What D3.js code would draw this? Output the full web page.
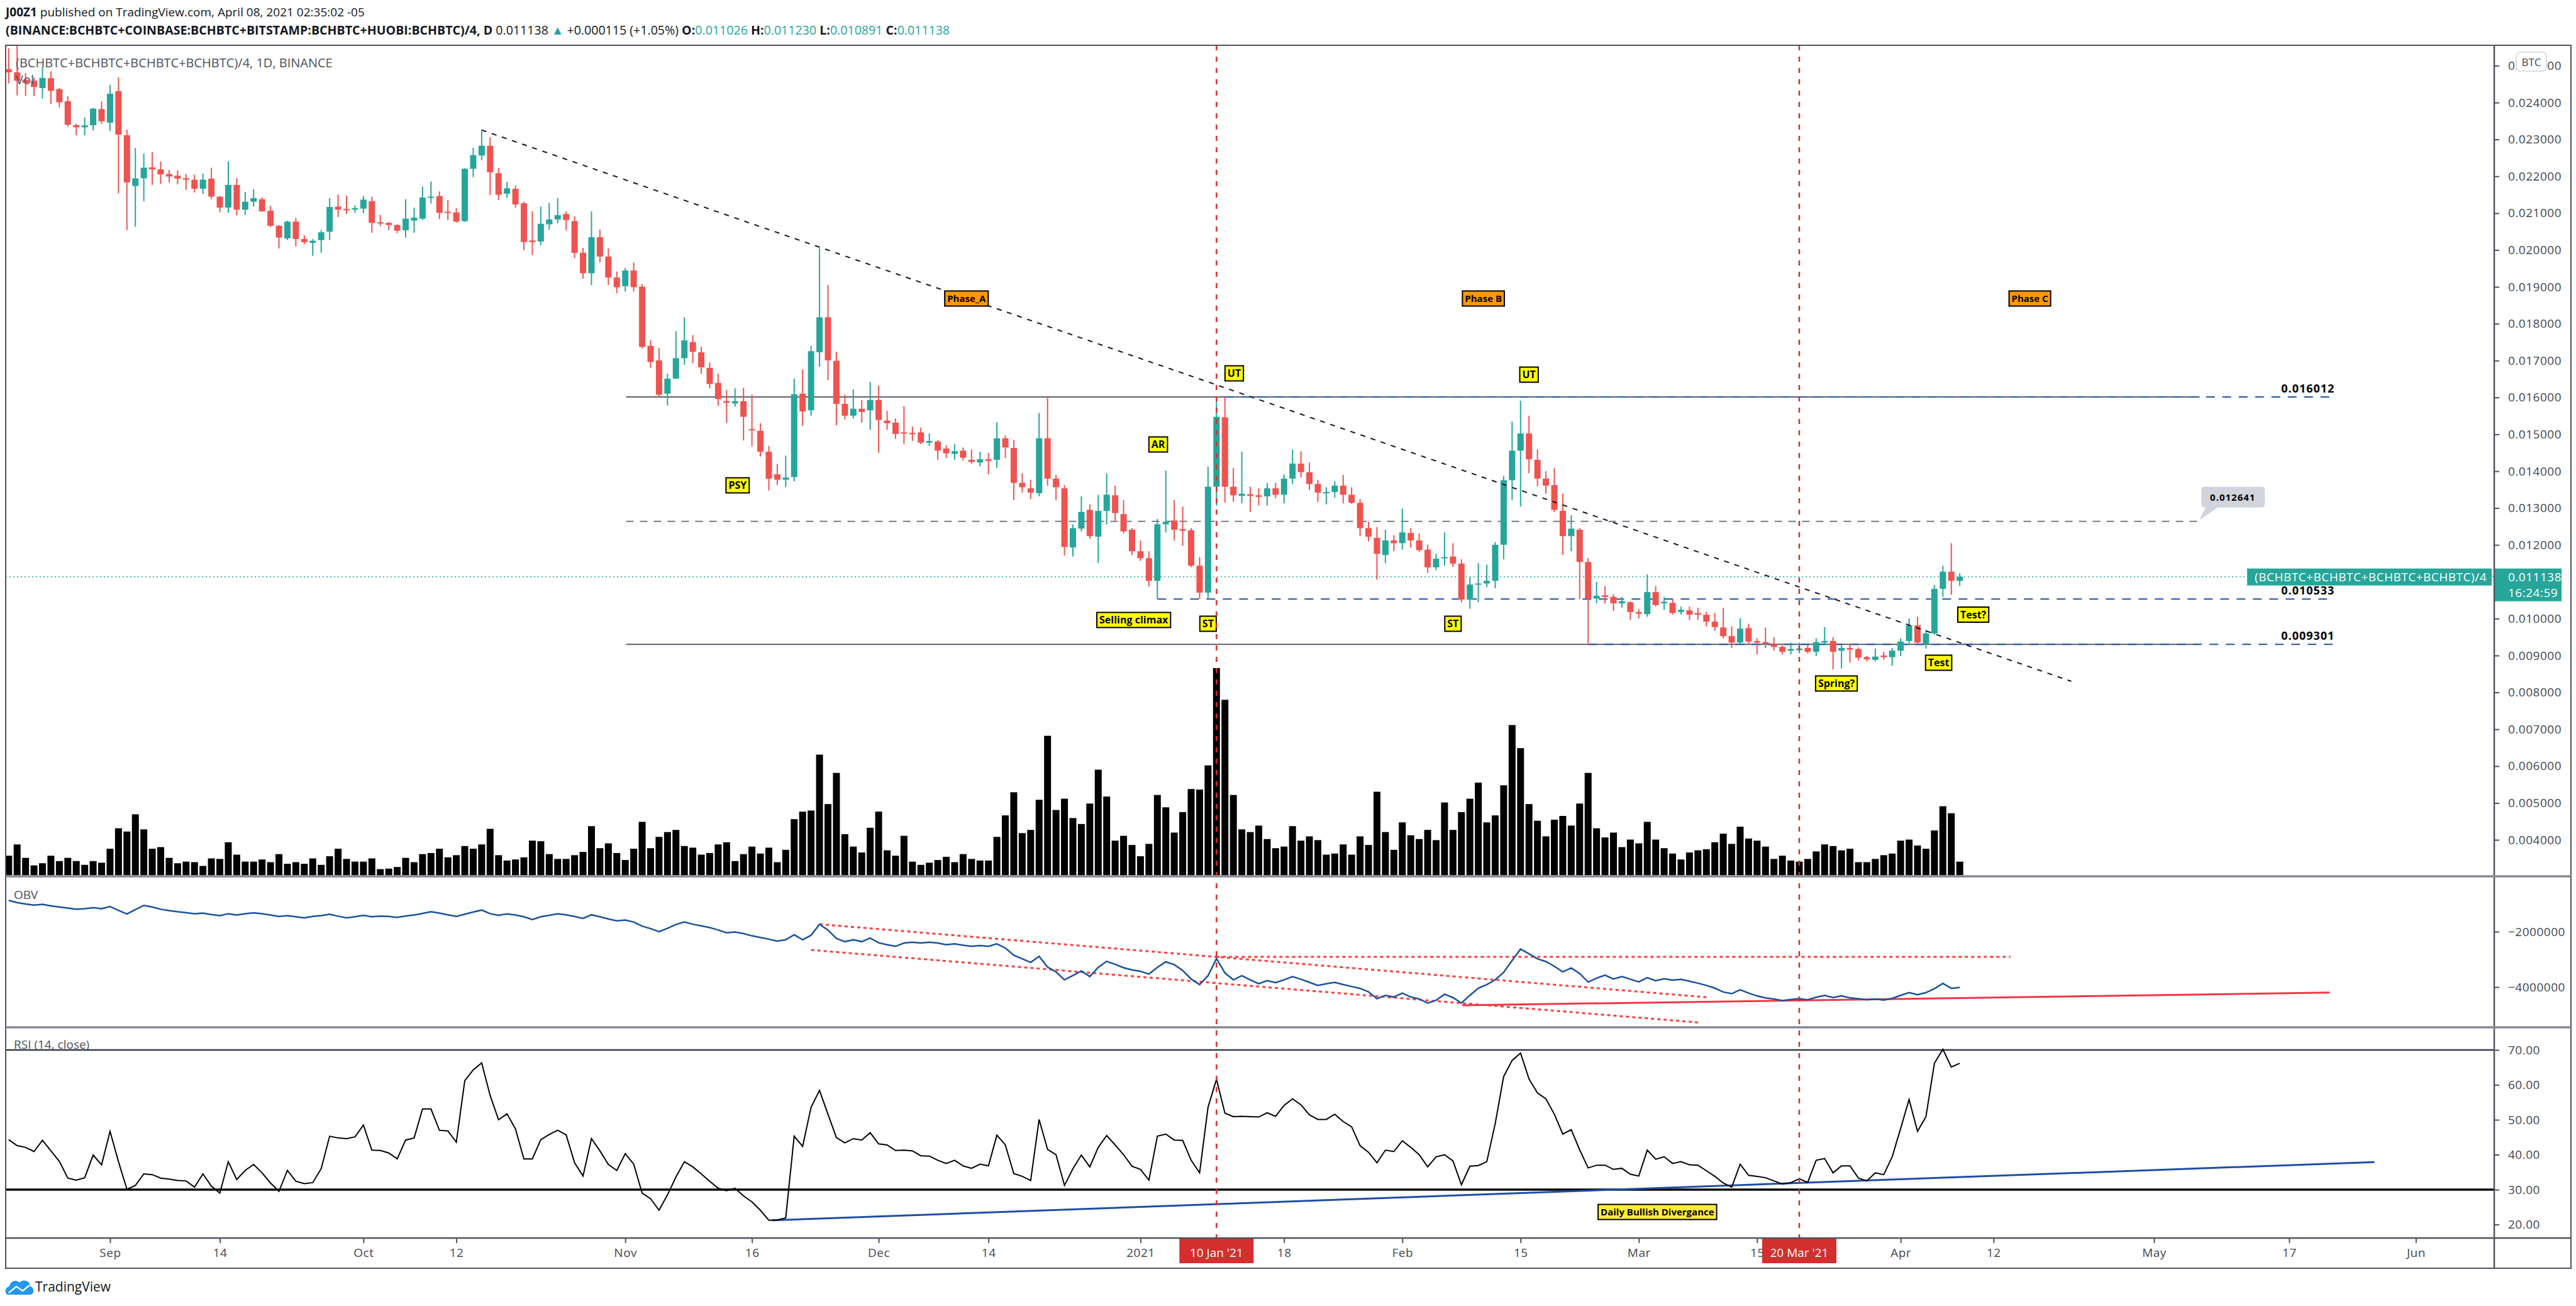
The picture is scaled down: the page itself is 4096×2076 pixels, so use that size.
<!DOCTYPE html>
<html>
<head>
<meta charset="utf-8">
<script src="https://cdn.jsdelivr.net/npm/d3@7"></script>
<style>
  body { margin: 0; background: #fff; }
  svg { display: block; }
  text { font-family: "Open Sans", "Liberation Sans", Arial, sans-serif; }
</style>
</head>
<body>
<svg id="chart" width="4096" height="2076"></svg>
<script>
// ---- data (prices in 1e-6 BTC, one candle per day from 2020-08-20) ----
const T0 = Date.UTC(2020, 7, 20);

const open = [
  24905,24820,24621,24592,24393,24660,24365,24035,23386,23329,
  23386,23824,23455,24308,23113,21737,21947,22243,22186,22061,
  22015,21947,21907,21663,21936,21447,21151,21765,21094,21310,
  21378,21066,20656,20315,20770,20298,20195,20269,20497,21179,
  21111,21094,21122,21322,20753,20736,20679,20537,20798,20849,
  21424,21464,21037,21020,20781,22203,22562,22829,22083,21528,
  21660,21266,20259,20230,20697,20828,20974,20785,19924,19370,
  20347,19822,19253,19020,19443,19005,17401,17007,16103,16511,
  17065,17503,17226,16803,16394,15899,15840,15899,15140,15096,
  14528,13915,13769,13842,16103,15651,17226,18174,16993,15826,
  15505,15694,15651,15928,15374,15315,15053,15038,15053,14775,
  14804,14615,14469,14557,14309,14236,14323,14309,14892,14630,
  13682,13536,13405,14892,13798,13536,11931,12441,12952,12223,
  12923,13346,12836,12413,11829,11640,11027,12559,12661,12427,
  12398,11436,10706,13579,15461,13579,13331,13375,13346,13317,
  13536,13361,13798,14207,13973,13653,13405,13434,13608,13361,
  13142,12456,12194,11727,12121,12048,12325,12121,11873,11392,
  11640,11684,11494,10517,10925,10954,11027,12004,13755,14557,
  15023,14309,13798,13623,12923,12238,12413,11538,10546,10633,
  10590,10415,10444,10181,10123,10721,10415,10429,10181,10225,
  10152,10108,9919,9759,9525,9350,9744,9394,9364,9321,
  9233,9131,9146,9204,9102,9350,9394,9131,9204,9175,
  8956,8884,9000,8956,9131,9394,9817,9321,9598,10808,
  11275,11026
];
const high = [
  25474,25542,24800,24677,24962,24848,24393,24166,23426,23597,
  23853,24035,24478,24689,23267,22772,22618,22658,22402,22175,
  22163,22061,22044,22072,22232,21464,22402,21947,21577,21646,
  21424,21196,20679,20793,20866,20400,20298,20542,21407,21503,
  21475,21208,21464,21447,20952,20753,20696,21378,21151,21720,
  21856,21589,21350,21140,22220,22772,23255,23056,22228,21849,
  21747,21310,21047,21178,21280,21412,21047,20916,20055,21047,
  20551,20041,19414,19516,19661,19078,17561,17342,16642,17795,
  18174,17693,17372,16949,16642,16205,16249,16263,16074,15301,
  14688,14192,14425,16511,16759,17401,20041,19049,17240,16074,
  16219,15928,16424,16322,15636,15432,15767,15213,15184,15023,
  14848,14703,14732,14644,14586,14528,14498,15330,14965,14848,
  13944,13769,15578,16015,13900,13623,12559,13317,13098,13361,
  13944,13608,13215,12456,12121,11829,12704,14017,13215,13040,
  12456,11669,14119,15957,16012,14090,14528,13579,13536,13682,
  13682,13915,14586,14542,14236,13769,13565,13725,13900,13565,
  13244,12631,12485,12413,12267,12982,12456,12311,12004,11756,
  12340,12048,11610,11129,11508,11464,12077,13871,15344,15913,
  15505,14586,14002,14090,13390,12806,12456,11640,10998,10881,
  10663,10590,10473,10254,11202,10881,10590,10517,10327,10327,
  10298,10181,10152,10298,9788,10006,9861,9467,9759,9496,
  9277,9350,9350,9277,9467,9773,9496,9277,9321,9219,
  8985,9189,9102,9204,9467,10006,10050,9700,10910,11435,
  12048,11230
];
const low = [
  24518,24194,24180,24177,24109,23966,23870,23341,23113,23113,
  23244,23426,23227,21538,20542,20628,21322,21765,21788,21833,
  21777,21634,21560,21521,21378,21020,21009,20935,20952,21179,
  21037,20622,20042,20269,20099,20155,19843,19928,20269,20895,
  20980,21009,20992,20468,20650,20542,20457,20337,20468,20810,
  21265,20838,20810,20741,20764,21976,22431,21492,21353,21412,
  21149,19997,19866,20128,20551,20726,20537,19778,19224,19049,
  19661,19049,18830,18874,18874,17328,16803,16015,15782,16500,
  16890,16934,16642,16249,15767,15315,15753,14834,14673,14396,
  13477,13623,13565,13725,15228,15505,16832,16467,15242,15403,
  15432,15315,15126,14498,15126,14878,14732,14819,14732,14688,
  14309,14353,14309,14294,14207,14134,13915,14090,14353,13215,
  13419,13244,13317,13608,13215,11713,11684,12369,12165,11508,
  12559,12661,12311,11727,11567,10867,10533,12340,12121,11975,
  11392,10540,10540,13069,13142,13171,13128,12894,13069,13069,
  13273,13128,13653,13827,13492,13171,13098,13288,13128,13113,
  12238,12092,11056,11508,11829,11873,11931,11814,11246,11319,
  11436,11407,10444,10269,10444,10852,10823,11610,13215,13040,
  13944,13594,13390,12894,11727,11829,10531,9301,10415,10415,
  10210,10298,9963,10006,10050,10327,10239,10108,10108,9963,
  9963,9788,9671,9467,9204,9306,9321,9029,9204,9131,
  9029,9029,9058,9058,8985,9277,8621,8650,8811,8869,
  8840,8840,8884,8723,8985,9277,9306,9189,9569,10590,
  10648,10891
];
const close = [
  24820,24592,24530,24421,24666,24319,24006,23398,23329,23381,
  23836,23494,24239,23130,21833,21942,22232,22186,22050,21993,
  21936,21907,21663,21907,21447,21151,21765,21094,21310,21407,
  21048,20656,20337,20770,20298,20212,20252,20480,21168,21094,
  21083,21134,21367,20736,20724,20679,20525,20849,20878,21424,
  21447,21009,21009,20770,22203,22573,22829,22107,21499,21674,
  21237,20216,20216,20712,20828,20945,20814,19924,19370,20347,
  19822,19253,18991,19443,18991,17372,16963,16074,16511,17065,
  17547,17240,16817,16365,15957,15855,15899,15476,15111,14528,
  13798,13769,13827,16088,15621,17255,18174,17007,15826,15505,
  15694,15607,15928,15388,15301,15009,15024,15009,14775,14819,
  14557,14484,14542,14367,14250,14323,14280,14892,14644,13682,
  13565,13419,14892,13798,13565,11946,12456,12894,12238,12923,
  13361,12865,12369,11829,11640,11027,12559,12631,12413,12384,
  11436,10706,13579,15476,13579,13346,13390,13331,13302,13536,
  13361,13798,14207,13973,13653,13419,13434,13608,13361,13142,
  12456,12223,11756,12121,12048,12340,12121,11858,11392,11625,
  11669,11494,10517,10925,10954,11027,12004,13755,14557,15023,
  14323,13798,13608,12952,12238,12441,11538,10546,10619,10590,
  10415,10473,10181,10137,10721,10371,10458,10152,10239,10108,
  10108,9919,9773,9525,9350,9729,9379,9350,9321,9233,
  9102,9175,9189,9102,9364,9394,9102,9204,9160,8942,
  8898,8971,8956,9131,9379,9817,9350,9598,10808,11275,
  11027,11138
];
const volume = [
  36,57,32,18,22,36,26,32,26,19, 26,23,49,87,81,113,85,49,52,32,
  22,25,24,17,31,30,61,38,25,25, 29,24,39,21,24,21,31,19,35,49,
  30,25,25,31,11,12,15,32,24,39, 41,49,33,37,54,49,57,86,37,27,
  29,33,64,63,39,30,30,37,43,91, 50,59,41,28,49,99,50,71,80,84,
  54,51,38,41,57,61,26,39,53,40, 51,24,47,104,118,120,224,132,190,76,
  53,42,88,118,46,36,73,25,19,23, 28,34,24,39,30,27,27,71,111,154,
  78,84,140,259,121,142,106,95,133,196, 146,64,73,56,35,58,149,126,79,117,
  160,159,204,385,326,149,85,80,92,67, 50,53,91,64,72,65,38,40,57,38,
  72,56,155,80,47,98,74,67,84,65, 135,84,117,142,172,98,111,167,279,236,
  132,101,72,103,110,92,133,190,87,70, 79,52,66,59,99,66,50,40,29,42,
  46,48,61,77,58,90,68,64,53,30, 36,27,25,30,44,57,54,46,49,24,
  24,30,37,40,64,66,55,49,83,128, 115,25
];
// On Balance Volume, millions
const obv = [
  -0.87,-0.95,-1.00,-1.04,-1.01,-1.07,-1.11,-1.15,-1.19,-1.17,
  -1.13,-1.17,-1.09,-1.23,-1.36,-1.20,-1.05,-1.11,-1.19,-1.24,
  -1.28,-1.31,-1.35,-1.33,-1.38,-1.42,-1.35,-1.40,-1.35,-1.32,
  -1.35,-1.40,-1.45,-1.42,-1.46,-1.50,-1.45,-1.42,-1.37,-1.44,
  -1.50,-1.46,-1.41,-1.46,-1.44,-1.45,-1.48,-1.43,-1.40,-1.34,
  -1.28,-1.33,-1.39,-1.45,-1.37,-1.29,-1.22,-1.35,-1.41,-1.36,
  -1.40,-1.46,-1.56,-1.46,-1.41,-1.35,-1.39,-1.45,-1.52,-1.39,
  -1.46,-1.54,-1.61,-1.58,-1.65,-1.80,-1.89,-2.00,-1.88,-1.74,
  -1.65,-1.73,-1.79,-1.85,-1.94,-2.04,-2.01,-2.07,-2.15,-2.21,
  -2.27,-2.34,-2.29,-2.11,-2.29,-2.13,-1.73,-1.94,-2.24,-2.36,
  -2.29,-2.36,-2.23,-2.40,-2.47,-2.53,-2.41,-2.38,-2.41,-2.38,
  -2.41,-2.47,-2.44,-2.49,-2.53,-2.50,-2.53,-2.44,-2.59,-2.85,
  -2.98,-3.11,-2.89,-3.28,-3.45,-3.74,-3.58,-3.42,-3.62,-3.29,
  -3.07,-3.18,-3.30,-3.38,-3.43,-3.53,-3.29,-3.09,-3.19,-3.40,
  -3.71,-3.91,-3.59,-2.97,-3.49,-3.74,-3.59,-3.74,-3.88,-3.77,
  -3.84,-3.74,-3.62,-3.72,-3.83,-3.94,-3.88,-3.83,-3.91,-3.98,
  -4.05,-4.17,-4.42,-4.30,-4.36,-4.22,-4.36,-4.43,-4.58,-4.48,
  -4.26,-4.38,-4.58,-4.30,-4.04,-3.91,-3.74,-3.47,-3.04,-2.63,
  -2.80,-2.98,-3.08,-3.25,-3.45,-3.31,-3.51,-3.82,-3.68,-3.57,
  -3.71,-3.62,-3.72,-3.81,-3.66,-3.77,-3.70,-3.75,-3.72,-3.79,
  -3.86,-3.94,-4.04,-4.18,-4.24,-4.10,-4.22,-4.32,-4.39,-4.43,
  -4.49,-4.45,-4.42,-4.46,-4.37,-4.30,-4.38,-4.32,-4.39,-4.42,
  -4.46,-4.43,-4.47,-4.41,-4.30,-4.20,-4.28,-4.20,-4.06,-3.87,
  -4.05,-4.01
];
const rsi = [
  44.3,42.6,42.1,40.9,44.1,41.1,38.1,33.3,32.7,33.4,
  39.9,37.1,46.7,38.0,30.1,31.2,34.5,34.3,33.3,33.0,
  32.6,32.5,30.7,34.5,31.0,29.0,38.0,32.9,35.5,37.2,
  34.8,31.9,29.5,35.5,32.4,31.7,32.0,36.0,45.3,44.8,
  44.6,45.1,48.5,41.3,41.2,40.5,38.8,44.2,44.8,53.1,
  53.1,47.0,46.8,43.6,61.2,64.3,66.3,57.0,50.0,51.7,
  47.4,38.8,38.8,44.3,45.8,47.0,45.7,37.7,33.9,44.6,
  41.1,37.2,35.5,40.3,37.3,29.0,27.4,24.1,28.5,33.6,
  38.0,36.5,34.5,32.4,30.4,29.7,30.4,28.2,26.5,24.1,
  21.2,21.3,21.9,45.3,42.4,53.6,58.4,51.6,44.9,43.4,
  44.6,44.2,46.3,43.1,42.8,41.2,41.3,41.1,39.7,39.6,
  38.4,37.5,38.4,36.8,36.1,37.3,36.8,45.6,42.8,34.6,
  33.8,32.6,50.1,41.5,40.0,31.2,36.0,39.9,36.5,42.1,
  45.5,42.8,40.0,36.7,35.8,32.7,45.3,45.9,44.2,44.1,
  38.4,34.8,53.6,61.6,51.9,50.9,51.0,50.9,50.8,52.0,
  51.0,54.1,56.0,54.3,51.4,50.1,50.1,51.6,49.5,48.0,
  42.6,40.7,37.7,41.3,40.9,44.0,42.1,40.0,36.5,39.4,
  40.0,38.2,31.4,36.7,36.9,38.0,48.9,62.4,67.0,69.1,
  61.7,57.7,56.0,51.6,45.9,47.2,41.4,36.2,37.0,37.0,
  35.8,36.1,34.4,33.9,41.3,38.7,39.4,37.5,38.0,37.1,
  37.0,35.4,33.8,31.9,30.7,37.3,34.1,33.8,33.4,32.5,
  31.6,32.0,33.1,32.1,38.4,38.9,34.8,36.8,36.8,33.3,
  32.5,34.8,34.3,39.4,47.5,55.8,46.7,50.9,66.2,70.2,
  65.1,66.2
];

// axis ticks (0.011000 sits under the live price label in the original, so it is left out)
const priceTicks = [4000,5000,6000,7000,8000,9000,10000,12000,13000,14000,
  15000,16000,17000,18000,19000,20000,21000,22000,23000,24000,25000];
const obvTicks = [-2, -4];
const rsiTicks = [70, 60, 50, 40, 30, 20];
const timeTicks = [
  ["2020-09-01","Sep"],["2020-09-14","14"],["2020-10-01","Oct"],["2020-10-12","12"],
  ["2020-11-01","Nov"],["2020-11-16","16"],["2020-12-01","Dec"],["2020-12-14","14"],
  ["2021-01-01","2021"],["2021-01-18","18"],["2021-02-01","Feb"],["2021-02-15","15"],
  ["2021-03-01","Mar"],["2021-03-15","15"],["2021-04-01","Apr"],["2021-04-12","12"],
  ["2021-05-01","May"],["2021-05-17","17"],["2021-06-01","Jun"]
];
const markedDays = [[143, "10 Jan '21"], [212, "20 Mar '21"]];

// drawings: day index (fractional) and value
const levels = [
  {p: 16012, from: 144, label: "0.016012"},
  {p: 10533, from: 136, label: "0.010533"},
  {p: 9301, from: 187, label: "0.009301"}
];
const boxLevels = [16012, 9301];
const midLevel = 12641;
const trendLine = [[56, 23255], [244.2, 8300]];
const wyckoff = [
  ["PSY", 86.3, 13616], ["AR", 136.1, 14725], ["UT", 145.1, 16654],
  ["Selling climax", 133.2, 9964], ["ST", 142.0, 9862], ["ST", 171.0, 9862],
  ["UT", 180.0, 16619], ["Spring?", 216.4, 8241], ["Test", 228.5, 8804],
  ["Test?", 232.6, 10109]
];
const phases = [["Phase_A", 113.4], ["Phase B", 174.6], ["Phase C", 239.3]];
const obvLines = [
  {pts: [[96, -1.73], [201.3, -4.375]], dash: "5,5"},
  {pts: [[95, -2.66], [200, -5.28]], dash: "5,5"},
  {pts: [[143, -2.91], [237, -2.91]], dash: "5,5"},
  {pts: [[172.1, -4.66], [274.8, -4.20]], dash: null}
];
const rsiLine = [[90.4, 21.2], [280.1, 37.9]];

// ---- layout ----
const UP = "#26a69a", DOWN = "#ef5350";
const LEFT = 9, AXIS_X = 3966, RIGHT = 4088;
const TOP = 72, MAIN_B = 1393, OBV_B = 1633, RSI_B = 1968, XAX_B = 2016;

const day = i => new Date(T0 + i * 864e5);
const svg = d3.select("#chart");

const x = d3.scaleUtc().domain([day(0), day(285)]).range([13.8, 13.8 + 285 * 13.43]);
const yP = d3.scaleLinear().domain([4000, 24000]).range([1335, 163]);
const yV = d3.scaleLinear().domain([0, 400]).range([1391, 1391 - 400 / 1.17]);
const yO = d3.scaleLinear().domain([-4, -2]).range([1569, 1481]);
const yR = d3.scaleLinear().domain([30, 70]).range([1891, 1669]);

const defs = svg.append("defs");
function clip(id, y0, y1) {
  defs.append("clipPath").attr("id", id).append("rect")
    .attr("x", LEFT).attr("y", y0).attr("width", AXIS_X - LEFT).attr("height", y1 - y0);
}
clip("cMain", TOP, MAIN_B); clip("cObv", MAIN_B, OBV_B); clip("cRsi", OBV_B, RSI_B);

// header
const hdr = svg.append("g").attr("fill", "#131722");
const h1 = hdr.append("text").attr("x", 9).attr("y", 26).attr("font-size", 19);
h1.append("tspan").attr("font-weight", "bold").text("J00Z1");
h1.append("tspan").text(" published on TradingView.com, April 08, 2021 02:35:02 -05");
const h2 = hdr.append("text").attr("x", 9).attr("y", 55).attr("font-size", 19.6);
[["(BINANCE:BCHBTC+COINBASE:BCHBTC+BITSTAMP:BCHBTC+HUOBI:BCHBTC)/4, D", "bold", null],
 [" 0.011138 ", null, null], ["\u25B2", null, UP], [" +0.000115 (+1.05%) ", null, null],
 ["O:", "bold", null], ["0.011026", null, UP], [" H:", "bold", null], ["0.011230", null, UP],
 [" L:", "bold", null], ["0.010891", null, UP], [" C:", "bold", null], ["0.011138", null, UP]]
  .forEach(([t, w, c]) => {
    const s = h2.append("tspan").text(t);
    if (w) s.attr("font-weight", w);
    if (c) s.attr("fill", c);
  });

// ---- main pane ----
const main = svg.append("g").attr("clip-path", "url(#cMain)");
const idx = d3.range(close.length);

main.selectAll("rect.vol").data(idx).join("rect").attr("class", "vol")
  .attr("x", i => x(day(i)) - 5.5).attr("width", 11)
  .attr("y", i => yV(volume[i])).attr("height", i => yV(0) - yV(volume[i]))
  .attr("fill", "#000");

// level lines
boxLevels.forEach(p => main.append("line")
  .attr("x1", x(day(73.1))).attr("x2", x(day(259.4))).attr("y1", yP(p)).attr("y2", yP(p))
  .attr("stroke", "#5d606b").attr("stroke-width", 2));
main.append("line")
  .attr("x1", x(day(73.1))).attr("x2", x(day(259.4))).attr("y1", yP(midLevel)).attr("y2", yP(midLevel))
  .attr("stroke", "#787b86").attr("stroke-width", 2).attr("stroke-dasharray", "12,10");

// current price line
main.append("line").attr("x1", LEFT).attr("x2", AXIS_X)
  .attr("y1", yP(close[close.length - 1])).attr("y2", yP(close[close.length - 1]))
  .attr("stroke", UP).attr("stroke-width", 1.5).attr("stroke-dasharray", "2,4");

levels.forEach(l => {
  main.append("line")
    .attr("x1", x(day(l.from))).attr("x2", x(day(275.4))).attr("y1", yP(l.p)).attr("y2", yP(l.p))
    .attr("stroke", "#2150a8").attr("stroke-width", 2).attr("stroke-dasharray", "14,12");
  main.append("text").attr("x", x(day(275.4))).attr("y", yP(l.p) - 7)
    .attr("text-anchor", "end").attr("font-size", 18).attr("font-weight", "bold")
    .attr("letter-spacing", 1).text(l.label);
});

// candles
const cg = main.selectAll("g.candle").data(idx).join("g").attr("class", "candle")
  .attr("transform", i => `translate(${x(day(i))},0)`);
cg.append("line")
  .attr("y1", i => yP(high[i])).attr("y2", i => yP(low[i]))
  .attr("stroke", i => close[i] >= open[i] ? UP : DOWN).attr("stroke-width", 2);
cg.append("rect").attr("x", -5).attr("width", 10)
  .attr("y", i => yP(Math.max(open[i], close[i])))
  .attr("height", i => Math.max(2, Math.abs(yP(open[i]) - yP(close[i]))))
  .attr("fill", i => close[i] >= open[i] ? UP : DOWN);

// trend line
main.append("line")
  .attr("x1", x(day(trendLine[0][0]))).attr("y1", yP(trendLine[0][1]))
  .attr("x2", x(day(trendLine[1][0]))).attr("y2", yP(trendLine[1][1]))
  .attr("stroke", "#131722").attr("stroke-width", 2).attr("stroke-dasharray", "8,9");

// label helper
function tag(g, text, cx, cy, fill, size) {
  const t = g.append("text").attr("x", cx).attr("y", cy).attr("text-anchor", "middle")
    .attr("dy", "0.35em").attr("font-size", size).attr("font-weight", "bold")
    .attr("font-family", "'Liberation Sans', Arial, sans-serif").text(text);
  const w = t.node().getComputedTextLength();
  g.insert("rect", () => t.node())
    .attr("x", cx - w / 2 - 4).attr("y", cy - 12).attr("width", w + 8).attr("height", 24)
    .attr("fill", fill).attr("stroke", "#000").attr("stroke-width", 2);
}
const ann = svg.append("g");
wyckoff.forEach(([t, i, p]) => tag(ann, t, x(day(i)), yP(p), "#ffff00", 16));
phases.forEach(([t, i]) => tag(ann, t, x(day(i)), yP(18684), "#ff9800", 15));

// callout for the mid level
{
  const bx = x(day(259.6)), by = yP(midLevel) - 55;
  ann.append("path")
    .attr("d", `M${bx + 8},${by + 30} L${bx - 3},${yP(midLevel) - 2} L${bx + 26},${by + 33} Z`)
    .attr("fill", "#d1d4dc");
  ann.append("rect").attr("x", bx).attr("y", by).attr("width", 101).attr("height", 33)
    .attr("rx", 5).attr("fill", "#d1d4dc");
  ann.append("text").attr("x", bx + 50).attr("y", by + 22).attr("text-anchor", "middle")
    .attr("font-size", 15).attr("font-weight", "bold").attr("letter-spacing", 1)
    .text((midLevel / 1e6).toFixed(6));
}

// pane titles
svg.append("text").attr("x", 25).attr("y", 107).attr("font-size", 20).attr("fill", "#4c525e")
  .text("(BCHBTC+BCHBTC+BCHBTC+BCHBTC)/4, 1D, BINANCE");
svg.append("text").attr("x", 25).attr("y", 134).attr("font-size", 20).attr("fill", "#4c525e").text("Vol");
svg.append("text").attr("x", 22).attr("y", 1429).attr("font-size", 19).attr("fill", "#4c525e").text("OBV");
svg.append("text").attr("x", 22).attr("y", 1667).attr("font-size", 19).attr("fill", "#4c525e").text("RSI (14, close)");

// ---- OBV pane ----
const po = svg.append("g").attr("clip-path", "url(#cObv)");
obvLines.forEach(l => po.append("line")
  .attr("x1", x(day(l.pts[0][0]))).attr("y1", yO(l.pts[0][1]))
  .attr("x2", x(day(l.pts[1][0]))).attr("y2", yO(l.pts[1][1]))
  .attr("stroke", l.dash ? "#ff3d3d" : "#f23645").attr("stroke-width", 3)
  .attr("stroke-dasharray", l.dash));
po.append("path").datum(obv)
  .attr("d", d3.line().x((d, i) => x(day(i))).y(d => yO(d)))
  .attr("fill", "none").attr("stroke", "#1c519c").attr("stroke-width", 2.5);

// ---- RSI pane ----
const pr = svg.append("g").attr("clip-path", "url(#cRsi)");
pr.append("line").attr("x1", LEFT).attr("x2", AXIS_X).attr("y1", yR(70)).attr("y2", yR(70))
  .attr("stroke", "#363a45").attr("stroke-width", 2.5);
pr.append("line").attr("x1", LEFT).attr("x2", AXIS_X).attr("y1", yR(30)).attr("y2", yR(30))
  .attr("stroke", "#000").attr("stroke-width", 3.5);
pr.append("line")
  .attr("x1", x(day(rsiLine[0][0]))).attr("y1", yR(rsiLine[0][1]))
  .attr("x2", x(day(rsiLine[1][0]))).attr("y2", yR(rsiLine[1][1]))
  .attr("stroke", "#1e4ea6").attr("stroke-width", 3);
pr.append("path").datum(rsi)
  .attr("d", d3.line().x((d, i) => x(day(i))).y(d => yR(d)))
  .attr("fill", "none").attr("stroke", "#000").attr("stroke-width", 2);
tag(svg, "Daily Bullish Divergance", x(day(195.2)), yR(23.6), "#ffeb3b", 15);

// vertical marker lines
markedDays.forEach(([i]) => svg.append("line")
  .attr("x1", x(day(i))).attr("x2", x(day(i))).attr("y1", TOP).attr("y2", RSI_B)
  .attr("stroke", "#d32f2f").attr("stroke-width", 2.5).attr("stroke-dasharray", "8,10"));

// ---- axes ----
function styleAxis(g) {
  g.select(".domain").remove();
  g.selectAll(".tick line").attr("stroke", "#50535e").attr("stroke-width", 2);
  g.selectAll(".tick text").attr("fill", "#434651").attr("font-size", 19)
    .attr("font-family", "'Open Sans', Arial, sans-serif").attr("letter-spacing", 0.5);
}
svg.append("g").attr("transform", `translate(${AXIS_X},0)`)
  .call(d3.axisRight(yP).tickValues(priceTicks).tickSize(8).tickPadding(14)
    .tickFormat(d => (d / 1e6).toFixed(6)))
  .call(styleAxis);
svg.append("g").attr("transform", `translate(${AXIS_X},0)`)
  .call(d3.axisRight(yO).tickValues(obvTicks).tickSize(8).tickPadding(14)
    .tickFormat(d => d3.format("d")(d * 1e6)))
  .call(styleAxis);
svg.append("g").attr("transform", `translate(${AXIS_X},0)`)
  .call(d3.axisRight(yR).tickValues(rsiTicks).tickSize(8).tickPadding(14)
    .tickFormat(d => d.toFixed(2)))
  .call(styleAxis);
const xa = svg.append("g").attr("transform", `translate(0,${RSI_B})`)
  .call(d3.axisBottom(x).tickValues(timeTicks.map(d => new Date(d[0] + "T00:00:00Z")))
    .tickSize(8).tickFormat((d, k) => timeTicks[k][1]))
  .call(styleAxis);
xa.selectAll(".tick text").attr("y", 30).attr("dy", null);

markedDays.forEach(([i, t]) => {
  const cx = x(day(i));
  svg.append("rect").attr("x", cx - 59).attr("y", RSI_B).attr("width", 118).attr("height", 40)
    .attr("fill", "#d32f2f");
  svg.append("text").attr("x", cx).attr("y", RSI_B + 30).attr("text-anchor", "middle")
    .attr("font-size", 19).attr("fill", "#fff").text(t);
});

// current value labels
{
  const cy = yP(close[close.length - 1]);
  const t = svg.append("text").attr("x", AXIS_X - 12).attr("y", cy + 7).attr("text-anchor", "end")
    .attr("font-size", 19).attr("fill", "#fff").attr("letter-spacing", 0.5)
    .text("(BCHBTC+BCHBTC+BCHBTC+BCHBTC)/4");
  const w = t.node().getComputedTextLength();
  svg.insert("rect", () => t.node()).attr("x", AXIS_X - w - 24).attr("y", cy - 13)
    .attr("width", w + 20).attr("height", 27).attr("fill", UP);
  svg.append("rect").attr("x", AXIS_X).attr("y", cy - 13).attr("width", 107).attr("height", 52)
    .attr("fill", UP);
  svg.append("text").attr("x", AXIS_X + 22).attr("y", cy + 7).attr("font-size", 19).attr("fill", "#fff")
    .attr("letter-spacing", 0.5).text((close[close.length - 1] / 1e6).toFixed(6));
  svg.append("text").attr("x", AXIS_X + 22).attr("y", cy + 32).attr("font-size", 19).attr("fill", "#fff")
    .attr("letter-spacing", 0.5).text("16:24:59");
}
// currency badge
svg.append("rect").attr("x", 4001).attr("y", 83).attr("width", 48).attr("height", 30).attr("rx", 6)
  .attr("fill", "#fff").attr("stroke", "#d1d4dc").attr("stroke-width", 1.5);
svg.append("text").attr("x", 4025).attr("y", 105).attr("text-anchor", "middle").attr("font-size", 17)
  .attr("fill", "#434651").text("BTC");

// ---- frame ----
const fr = svg.append("g").attr("stroke", "#50535e").attr("fill", "none");
fr.append("rect").attr("x", LEFT).attr("y", TOP).attr("width", RIGHT - LEFT).attr("height", XAX_B - TOP)
  .attr("stroke-width", 2);
fr.append("line").attr("x1", AXIS_X).attr("x2", AXIS_X).attr("y1", TOP).attr("y2", XAX_B).attr("stroke-width", 2.5);
[MAIN_B, OBV_B].forEach(y => fr.append("line").attr("x1", LEFT).attr("x2", RIGHT)
  .attr("y1", y).attr("y2", y).attr("stroke", "#868993").attr("stroke-width", 3.5));
fr.append("line").attr("x1", LEFT).attr("x2", RIGHT).attr("y1", RSI_B).attr("y2", RSI_B).attr("stroke-width", 2.5);

// logo
const logo = svg.append("g").attr("transform", "translate(9,2030)");
logo.append("path")
  .attr("d", "M4,28 C-2,28 -2,16 6,15 C7,6 17,3 22,9 C27,2 40,6 39,15 C46,16 46,28 39,28 Z")
  .attr("fill", "#2196f3");
logo.append("path").attr("d", "M5,25 L17,15 L27,22 L38,13").attr("fill", "none")
  .attr("stroke", "#fff").attr("stroke-width", 2.5);
svg.append("text").attr("x", 56).attr("y", 2053).attr("font-size", 21).attr("fill", "#131722").text("TradingView");
</script>
</body>
</html>
